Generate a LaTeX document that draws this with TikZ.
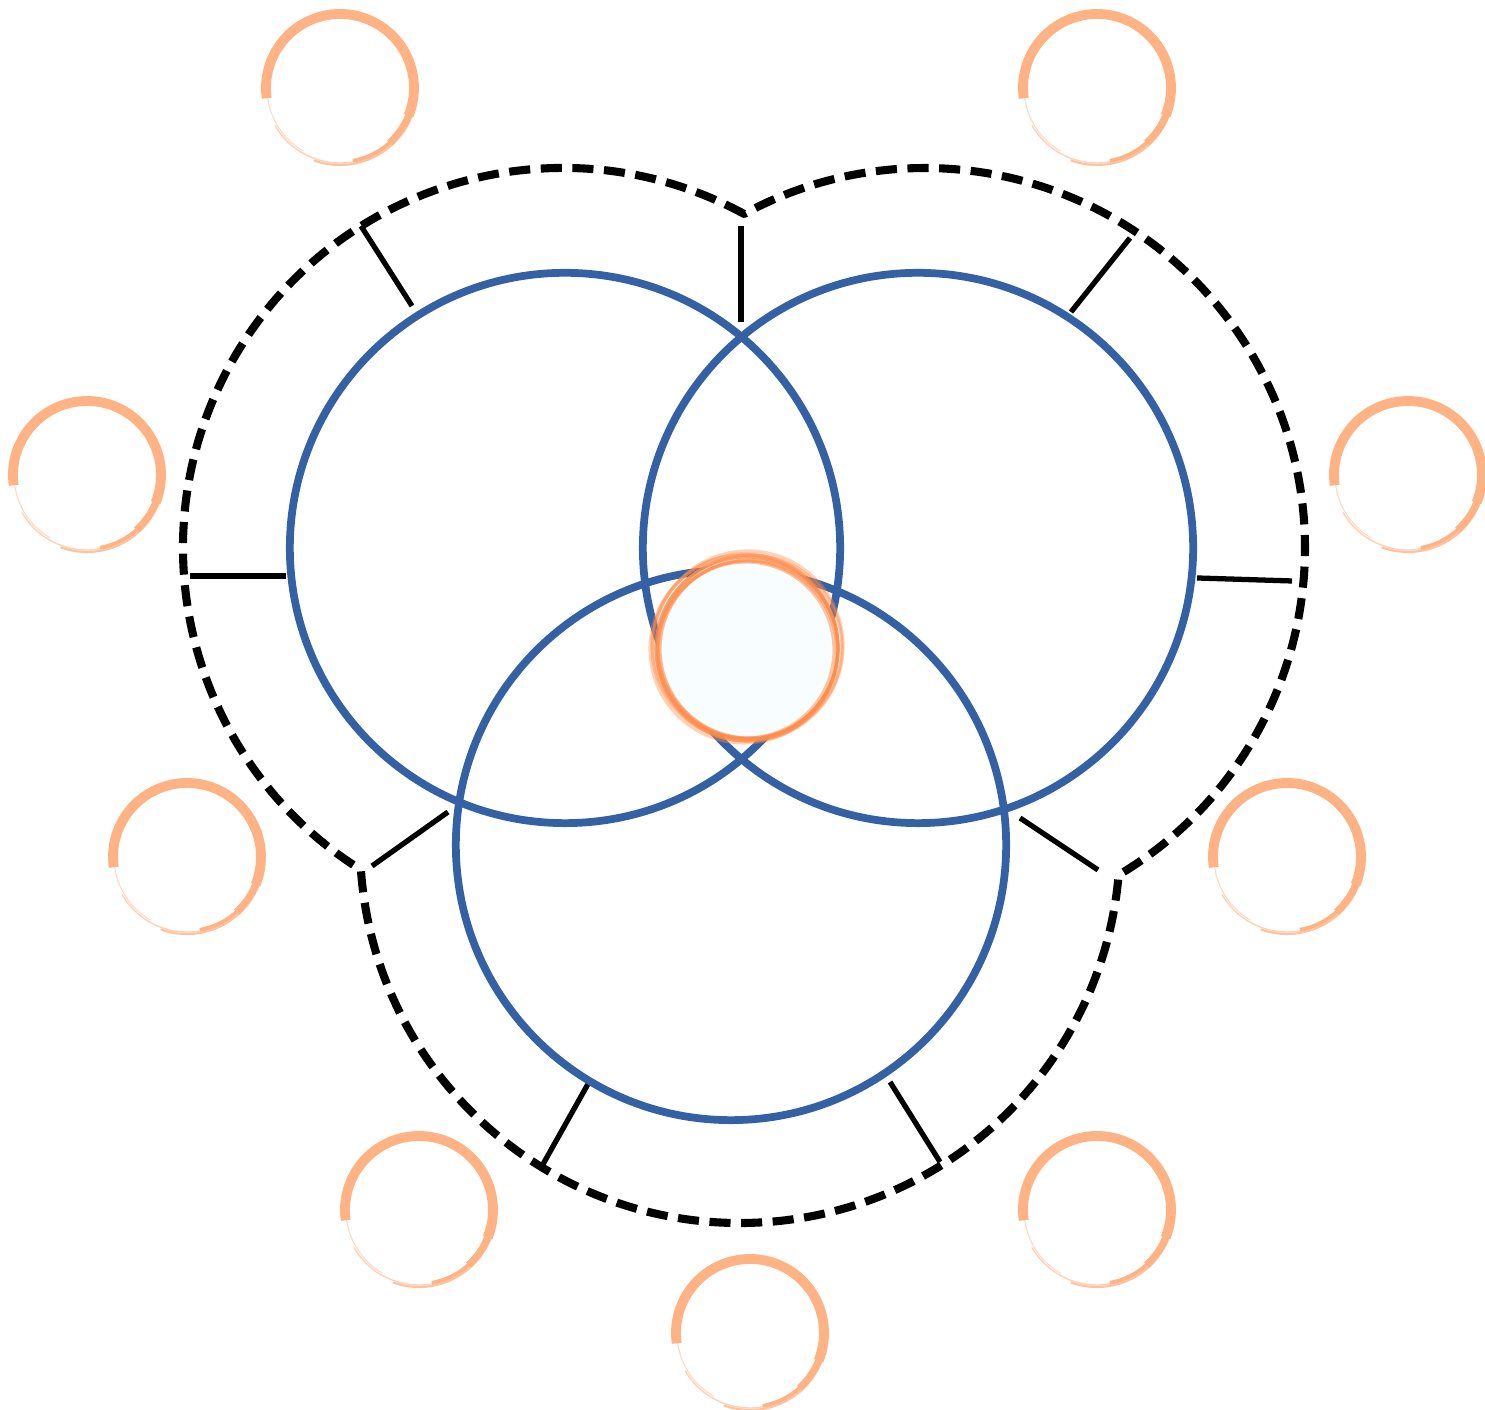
\documentclass[tikz,border=0pt]{standalone}
\usepackage{tikz}
\usetikzlibrary{calc}
\definecolor{ringblue}{RGB}{52,97,163}
\definecolor{peach}{RGB}{255,179,133}
\definecolor{peachdk}{RGB}{255,140,75}
\definecolor{paleice}{RGB}{248,253,255}
\tikzset{
  bluering/.style={circle, draw=ringblue, line width=2.2pt, minimum size=5.5cm, inner sep=0pt},
  outline/.style={line width=2.3pt, dash pattern=on 6pt off 3pt, line join=round},
  tick/.style={line width=1.5pt, black},
  peachnode/.style={circle, fill=white, minimum size=1.48cm, inner sep=0pt},
}
\newcommand{\peachring}[3]{%
  \node[peachnode] (#1) at (#2,#3) {};
  \draw[peach, line width=2.8pt] ([shift={(188:74)}]#1.center) arc[start angle=188, end angle=-22, radius=74];
  \draw[peach, line width=2pt] ([shift={(-20:74)}]#1.center) arc[start angle=-20, end angle=-48, radius=74];
  \draw[peach, line width=1.1pt] ([shift={(-46:74)}]#1.center) arc[start angle=-46, end angle=-80, radius=74];
  \draw[peach, line width=0.6pt, opacity=0.8] ([shift={(0:77)}]#1.center) arc[start angle=0, end angle=-110, radius=77];
  \draw[peach, line width=0.4pt, opacity=0.6] ([shift={(-60:75)}]#1.center) arc[start angle=-60, end angle=-150, radius=75];
  \draw[peach, line width=0.3pt, opacity=0.5] ([shift={(-120:73)}]#1.center) arc[start angle=-120, end angle=-200, radius=73];
}

\begin{document}
\begin{tikzpicture}[x=0.01cm, y=0.01cm]
\useasboundingbox (0,0) rectangle (1485,1410);
\coordinate (dL) at (563,862);
\coordinate (dR) at (925,862);
\coordinate (dB) at (740,567);
\draw[outline] ([shift={(61.55:380)}]dL) arc[start angle=61.55, end angle=237.87, radius=380]
  arc[start angle=184.04, end angle=355.17, radius=380]
  arc[start angle=300.64, end angle=478.45, radius=380] -- cycle;
\foreach \i/\xa/\ya/\xb/\yb in {1/190/834/286/834, 2/361/1184/412/1104, 3/741/1184/741/1088,
  4/1130/1172/1071/1098, 5/1292/829/1197/832, 6/1098/540/1020/592,
  7/372/544/448/598, 8/542/244/588/326, 9/940/248/890/328}{
  \coordinate (ta\i) at (\xa,\ya);
  \coordinate (tb\i) at (\xb,\yb);
  \draw[tick] (ta\i) -- (tb\i);
}
\node[bluering] (cL) at (565,862) {};
\node[bluering] (cR) at (918,862) {};
\node[bluering] (cB) at (731,565) {};
\node[circle, fill=paleice, minimum size=1.8cm, inner sep=0pt] (core) at (747,762) {};
\foreach \dx/\dy/\r/\op in {0/0/91/0.8, 2/-1/89/0.6, -2/1/93/0.5, 1/2/95/0.4, -1/-2/88/0.5, 3/1/92/0.5, -3/-1/94/0.4, 0/-3/90/0.6}{
  \draw[peachdk, line width=0.9pt, opacity=\op] ($(core)+(\dx,\dy)$) circle[radius=\r];
}
\peachring{p1}{340}{1322}
\peachring{p2}{1097}{1322}
\peachring{p3}{87}{935}
\peachring{p4}{1408}{935}
\peachring{p5}{187}{553}
\peachring{p6}{1287}{553}
\peachring{p7}{419}{200}
\peachring{p8}{1097}{200}
\peachring{p9}{750}{77}
\end{tikzpicture}
\end{document}
